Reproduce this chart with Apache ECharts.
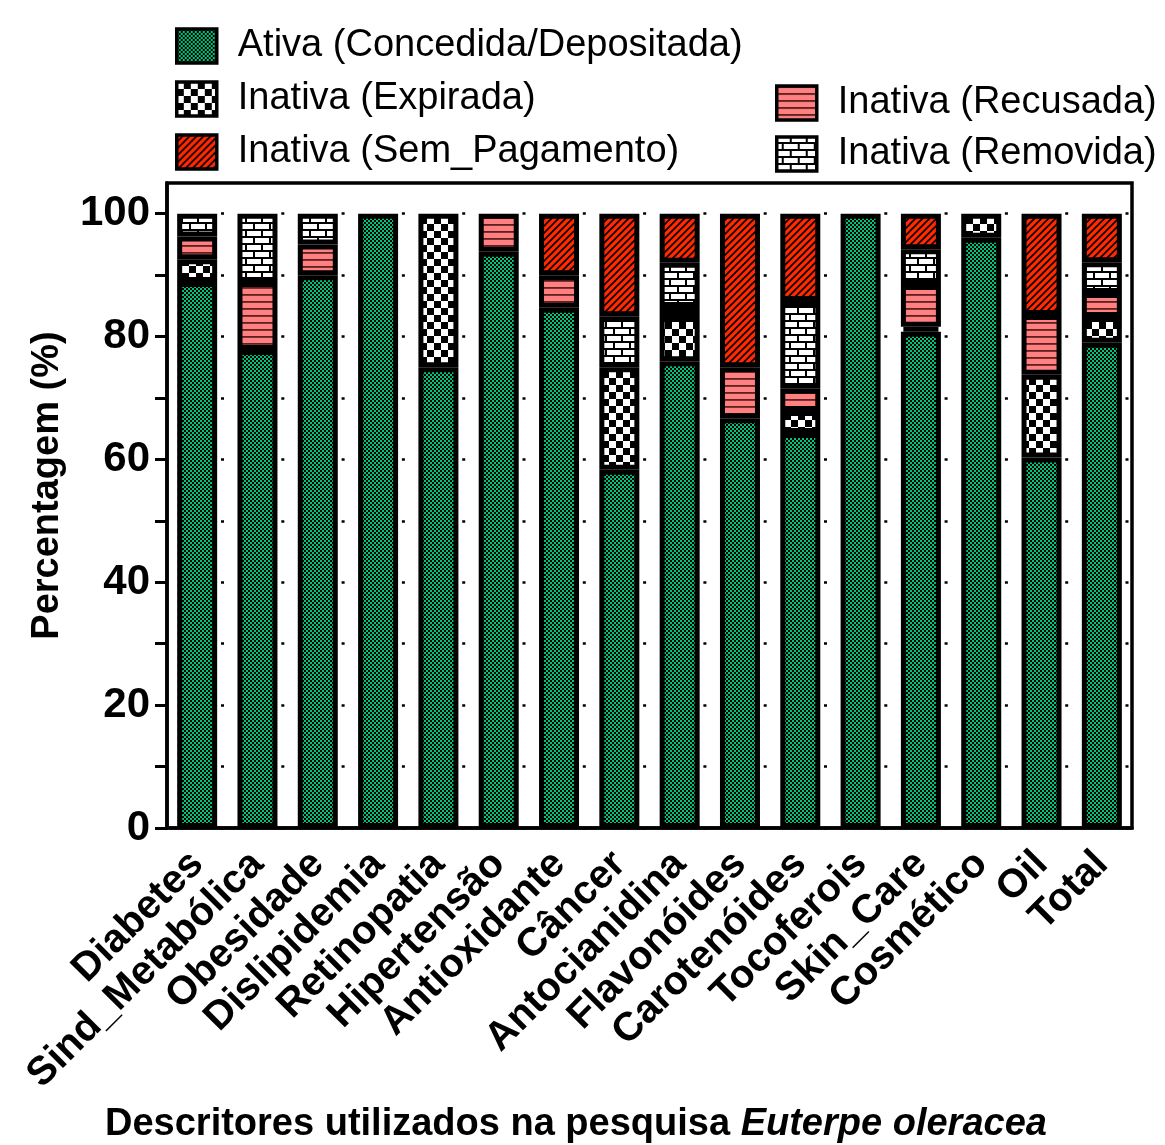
<!DOCTYPE html>
<html>
<head>
<meta charset="utf-8">
<script src="https://cdn.jsdelivr.net/npm/echarts@6/dist/echarts.min.js"></script>
<style>
html,body{margin:0;padding:0;background:#fff;}
#chart{width:1165px;height:1145px;}
</style>
</head>
<body>
<div id="chart"></div>
<script>
const categories = ['Diabetes','Sind_Metabólica','Obesidade','Dislipidemia','Retinopatia','Hipertensão','Antioxidante','Câncer','Antocianidina','Flavonóides','Carotenóides','Tocoferois','Skin_Care','Cosmético','Oil','Total'];
const ativa     = [88.9, 77.8, 90, 100, 75, 93.8, 84.7, 58.3, 76, 66.7, 64.3, 100, 80.8, 96.1, 60.3, 79];
const expirada  = [3.7, 0, 0, 0, 25, 0, 0, 16.7, 7.2, 0, 3.6, 0, 0.8, 3.9, 13.5, 4.2];
const recusada  = [3.7, 11.1, 5, 0, 0, 6.2, 5.3, 0, 1.6, 8.3, 3.6, 0, 6.8, 0, 9.7, 3.9];
const removida  = [3.7, 11.1, 5, 0, 0, 0, 0, 8.3, 7.2, 0, 14.3, 0, 5.8, 0, 0, 5];
const semPag    = [0, 0, 0, 0, 0, 0, 10, 16.7, 8, 25, 14.2, 0, 5.8, 0, 16.5, 7.9];
const yTicks = [0,10,20,30,40,50,60,70,80,90,100];
const yLabels = [0,20,40,60,80,100];

const names = ['Ativa (Concedida/Depositada)','Inativa (Expirada)','Inativa (Recusada)','Inativa (Removida)','Inativa (Sem_Pagamento)'];

function tile(w,h,draw){const c=document.createElement('canvas');c.width=w;c.height=h;const g=c.getContext('2d');draw(g);return {image:c,repeat:'repeat'};}
const pGreen = tile(4,4,g=>{g.fillStyle='#000';g.fillRect(0,0,4,4);g.fillStyle='#00c47a';g.fillRect(0,0,2,2);g.fillRect(2,2,2,2);});
const pExp = tile(14,14,g=>{g.fillStyle='#fff';g.fillRect(0,0,14,14);g.fillStyle='#000';g.fillRect(7,0,7,7);g.fillRect(0,7,7,7);});
const pRec = tile(4,7,g=>{g.fillStyle='#ff8080';g.fillRect(0,0,4,7);g.fillStyle='#5e2020';g.fillRect(0,0,4,1.8);});
const pRem = tile(16,14,g=>{g.fillStyle='#fff';g.fillRect(0,0,16,14);g.fillStyle='#000';g.fillRect(0,5,16,2);g.fillRect(0,12,16,2);g.fillRect(13,0,2,5);g.fillRect(5,7,2,5);});
const pSem = tile(7,7,g=>{g.fillStyle='#ff2a00';g.fillRect(0,0,7,7);g.strokeStyle='#000';g.lineWidth=1.6;g.beginPath();g.moveTo(0,7);g.lineTo(7,0);g.moveTo(-1,1);g.lineTo(1,-1);g.moveTo(6,8);g.lineTo(8,6);g.stroke();});
const fills = [pGreen,pExp,pRec,pRem,pSem];
const values = [ativa,expirada,recusada,removida,semPag];

const FF = 'Liberation Sans, Arial, sans-serif';

const series = names.map((n,i)=>({
  name:n, type:'bar', stack:'t', barWidth:40,
  data: values[i].map(v=>v===0?'-':v),
  itemStyle:{color:fills[i], borderColor:'#000', borderWidth:5},
  emphasis:{disabled:true}
}));

const legendCommon = {
  orient:'vertical', itemWidth:40, itemHeight:34, icon:'rect', padding:0,
  itemStyle:{borderColor:'#000', borderWidth:3.5},
  textStyle:{fontSize:38, fontFamily:FF, color:'#000', lineHeight:38, padding:[0,0,0,16]},
  selectedMode:false
};

const chart = echarts.init(document.getElementById('chart'));
chart.setOption({
  animation:false,
  backgroundColor:'#fff',
  title:{
    left:100, top:1101,
    text:'{a|Descritores utilizados na pesquisa }{b|Euterpe oleracea}',
    textStyle:{rich:{
      a:{fontSize:38,fontWeight:'bold',fontFamily:FF,color:'#000'},
      b:{fontSize:38,fontWeight:'bold',fontStyle:'italic',fontFamily:FF,color:'#000'}
    }}
  },
  legend:[
    Object.assign({}, legendCommon, {left:175, top:27, itemGap:15, data:[names[0],names[1],names[4]]}),
    Object.assign({}, legendCommon, {left:775, top:84, itemGap:13, data:[names[2],names[3]]})
  ],
  grid:{left:167, right:33, top:183, bottom:317, show:true, borderColor:'#000', borderWidth:3.5, containLabel:false},
  xAxis:{
    type:'category', data:categories,
    axisLine:{lineStyle:{color:'#000', width:3.5}},
    axisTick:{alignWithLabel:true, length:10, lineStyle:{color:'#000', width:3}},
    axisLabel:{interval:0, rotate:45, margin:30, fontSize:40, fontWeight:'bold', fontFamily:FF, color:'#000'}
  },
  yAxis:{
    type:'value', min:0, max:105, interval:10,
    name:'Percentagem (%)', nameLocation:'middle', nameGap:100,
    nameTextStyle:{fontSize:38, fontWeight:'bold', fontFamily:FF, color:'#000', padding:[0,0,0,40]},
    axisLine:{show:true, lineStyle:{color:'#000', width:3.5}},
    axisTick:{show:true, length:12, customValues:yTicks, lineStyle:{color:'#000', width:3}},
    axisLabel:{customValues:yLabels, margin:17, fontSize:42, fontWeight:'bold', fontFamily:FF, color:'#000'},
    splitLine:{show:true, lineStyle:{color:'#000', width:2.5, type:[3,57.3], dashOffset:6.3}}
  },
  series:series
});
</script>
</body>
</html>
